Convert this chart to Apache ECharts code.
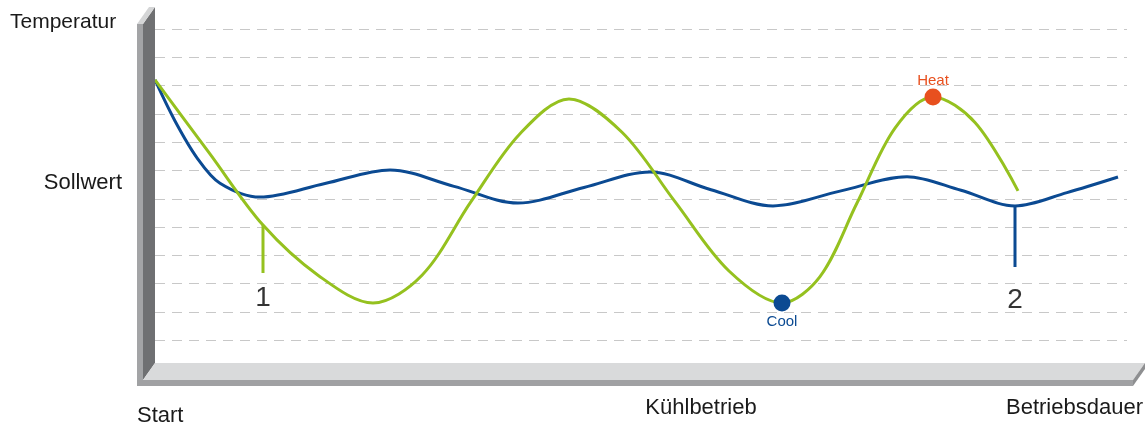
<!DOCTYPE html>
<html>
<head>
<meta charset="utf-8">
<script src="https://cdn.jsdelivr.net/npm/echarts@6/dist/echarts.min.js"></script>
<style>
  html, body { margin: 0; padding: 0; background: #ffffff; }
  #chart { width: 1147px; height: 429px; }
</style>
</head>
<body>
<div id="chart"></div>
<script>
// Temperature over operating time: on/off control (green) vs. continuous control (blue)
// x: operating time (arbitrary units), y: temperature (arbitrary units)

const onOffCurve = [
  [0, 10.20], [5.4, 7.63], [10.8, 5.07], [16.3, 3.30], [21.8, 2.32], [26.7, 3.30],
  [31.6, 5.90], [36.5, 8.30], [41.4, 9.53], [46.7, 8.35], [52.0, 5.90], [57.4, 3.45],
  [62.7, 2.32], [66.5, 3.25], [70.2, 5.85], [74.0, 8.50], [77.8, 9.60], [82.0, 8.70],
  [86.3, 6.28]
];

const inverterCurve = [
  [0, 10.20], [2.0, 8.75], [4.2, 7.45], [6.5, 6.55], [10.5, 6.06], [17.0, 6.54],
  [23.5, 7.02], [29.9, 6.44], [36.3, 5.85], [42.9, 6.40], [49.5, 6.95], [55.6, 6.32],
  [61.8, 5.75], [68.5, 6.27], [75.2, 6.78], [80.6, 6.30], [86.0, 5.75], [91.2, 6.22],
  [96.3, 6.77]
];

// Extremes of the on/off curve
const coolPoint = [62.7, 2.32];
const heatPoint = [77.8, 9.60];

// Reference marks 1 and 2 (top on the curve, bottom end of the stroke)
const mark1 = [[10.8, 5.07], [10.8, 3.38]];
const mark2 = [[86.0, 5.75], [86.0, 3.59]];
const markLabels = [
  { value: [10.8, 2.49], name: '1' },
  { value: [86.0, 2.42], name: '2' }
];

const yAxisTexts = ['Temperatur', 'Sollwert'];
const xAxisTexts = ['Start', 'Kühlbetrieb', 'Betriebsdauer'];

const GREEN = '#95c11f';
const BLUE = '#0b4a92';
const ORANGE = '#e8501e';
const FONT = '"Liberation Sans", Arial, sans-serif';

const chart = echarts.init(document.getElementById('chart'), null, { renderer: 'canvas' });

function axisText(text, x, y, align, size) {
  return {
    type: 'text', x: x, y: y, z: 20,
    style: {
      text: text, fill: '#1a1a1a',
      font: size + 'px ' + FONT,
      textAlign: align, textVerticalAlign: 'middle'
    }
  };
}

const option = {
  backgroundColor: '#ffffff',
  animation: false,
  grid: { left: 155, right: 20, top: 29, bottom: 60.4 },
  xAxis: {
    type: 'value', min: 0, max: 97.2,
    axisLine: { show: false }, axisTick: { show: false },
    axisLabel: { show: false }, splitLine: { show: false }
  },
  yAxis: {
    type: 'value', min: 0, max: 12, interval: 1,
    axisLine: { show: false }, axisTick: { show: false },
    axisLabel: { show: false },
    splitLine: { show: true, lineStyle: { color: '#c8c8c8', width: 1, type: [10, 7] } }
  },
  graphic: [
    // left wall: front face, receding side face, top cap
    { type: 'rect', z: 10, shape: { x: 137, y: 24, width: 6, height: 362 }, style: { fill: '#a3a4a6' } },
    { type: 'polygon', z: 10, shape: { points: [[143, 24], [155, 7], [155, 363], [143, 380]] }, style: { fill: '#6f7072' } },
    { type: 'polygon', z: 10, shape: { points: [[137, 24], [143, 24], [155, 7], [149, 7]] }, style: { fill: '#d4d5d6' } },
    // floor: top face, front edge, right end
    { type: 'polygon', z: 10, shape: { points: [[143, 380], [155, 363], [1145, 363], [1133, 380]] }, style: { fill: '#d9dadb' } },
    { type: 'rect', z: 10, shape: { x: 137, y: 380, width: 996, height: 6 }, style: { fill: '#a0a1a3' } },
    { type: 'polygon', z: 10, shape: { points: [[1133, 380], [1145, 363], [1145, 369], [1133, 386]] }, style: { fill: '#8e8f91' } },
    axisText(yAxisTexts[0], 10, 22, 'left', 21),
    axisText(yAxisTexts[1], 122, 183, 'right', 22),
    axisText(xAxisTexts[0], 137, 416, 'left', 22),
    axisText(xAxisTexts[1], 701, 408, 'center', 22),
    axisText(xAxisTexts[2], 1143, 408, 'right', 22)
  ],
  series: [
    {
      name: 'inverter', type: 'line', data: inverterCurve, smooth: 0.33,
      showSymbol: false, z: 3,
      lineStyle: { color: BLUE, width: 3 }
    },
    {
      name: 'onoff', type: 'line', data: onOffCurve, smooth: 0.33,
      showSymbol: false, z: 4,
      lineStyle: { color: GREEN, width: 3 }
    },
    {
      name: 'mark1', type: 'line', data: mark1, showSymbol: false, z: 4,
      lineStyle: { color: GREEN, width: 3 }
    },
    {
      name: 'mark2', type: 'line', data: mark2, showSymbol: false, z: 3,
      lineStyle: { color: BLUE, width: 3 }
    },
    {
      name: 'extremes', type: 'scatter', z: 6, symbolSize: 17,
      data: [
        { value: coolPoint, name: 'Cool', itemStyle: { color: BLUE, opacity: 1 },
          label: { show: true, position: 'bottom', distance: 3, color: BLUE } },
        { value: heatPoint, name: 'Heat', itemStyle: { color: ORANGE, opacity: 1 },
          label: { show: true, position: 'top', distance: 0, color: ORANGE } }
      ],
      label: { formatter: '{b}', fontSize: 15, fontFamily: FONT }
    },
    {
      name: 'markLabels', type: 'scatter', z: 6, symbolSize: 1,
      itemStyle: { color: 'transparent' },
      data: markLabels,
      label: { show: true, position: 'inside', formatter: '{b}', fontSize: 28, color: '#000000', fontFamily: FONT }
    }
  ]
};

chart.setOption(option);
</script>
</body>
</html>
